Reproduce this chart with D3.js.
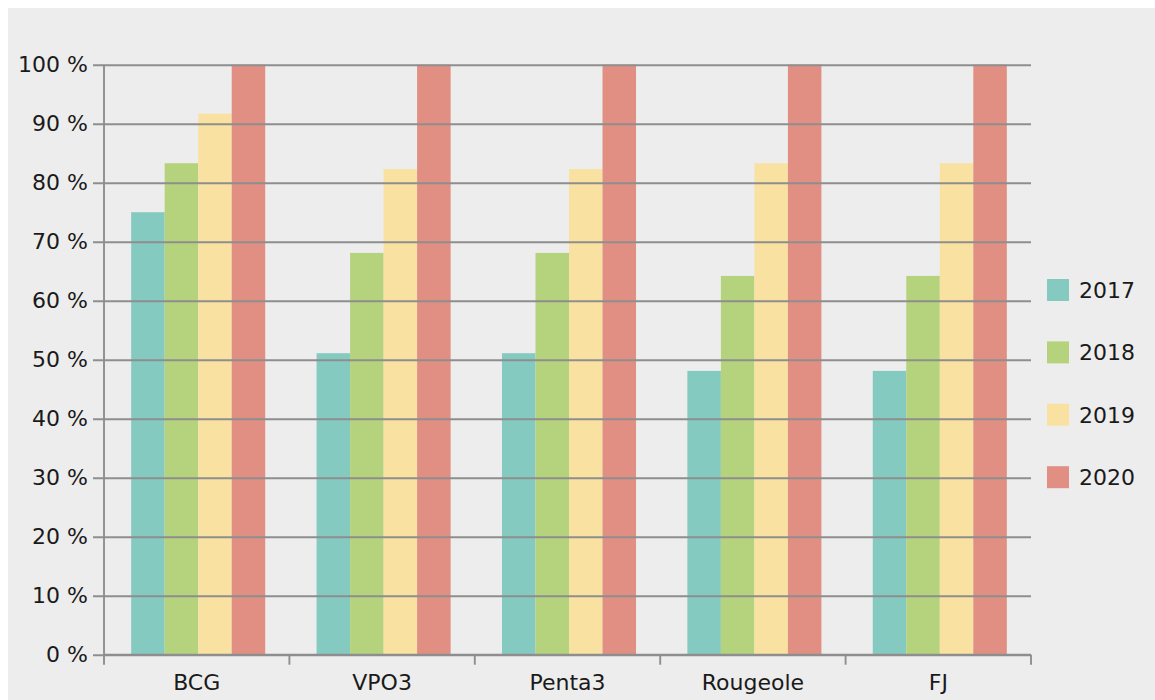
<!DOCTYPE html>
<html>
<head>
<meta charset="utf-8">
<script src="https://cdn.jsdelivr.net/npm/d3@7"></script>
<style>
  html, body { margin: 0; padding: 0; background: #ffffff; }
  svg { display: block; }
  text { font-family: "DejaVu Sans", sans-serif; fill: #1a1a1a; }
</style>
</head>
<body>
<svg id="chart" width="1155" height="700"></svg>
<script>
const categories = ["BCG", "VPO3", "Penta3", "Rougeole", "FJ"];
const years = ["2017", "2018", "2019", "2020"];
const values2017 = [75.0, 51.1, 51.1, 48.1, 48.1];
const values2018 = [83.3, 68.1, 68.1, 64.2, 64.2];
const values2019 = [91.7, 82.3, 82.3, 83.3, 83.3];
const values2020 = [100, 100, 100, 100, 100];
const yTicks = [0, 10, 20, 30, 40, 50, 60, 70, 80, 90, 100];
const colors = ["#85cac0", "#b5d37d", "#f9e1a1", "#e08f82"];

const series = [values2017, values2018, values2019, values2020];

const svg = d3.select("#chart");
svg.append("rect").attr("x", 8).attr("y", 8).attr("width", 1147).attr("height", 692).attr("fill", "#ededed");

const mLeft = 104, mRight = 1031, mTop = 64.7, mBottom = 654.7;
const gridColor = "#8e8e8e", gridWidth = 1.9;

const x = d3.scaleBand().domain(categories).range([mLeft, mRight]).paddingInner(0.277).paddingOuter(0.1385);
const x1 = d3.scaleBand().domain(years).range([0, x.bandwidth()]);
const y = d3.scaleLinear().domain([0, 100]).range([mBottom, mTop]);

// bars
const groups = svg.append("g").selectAll("g").data(categories).join("g")
  .attr("transform", d => `translate(${x(d) + 1.5},0)`);
groups.selectAll("rect")
  .data((c, i) => years.map((yr, j) => ({ yr, v: series[j][i], j })))
  .join("rect")
  .attr("x", d => x1(d.yr))
  .attr("width", x1.bandwidth())
  .attr("y", d => y(d.v))
  .attr("height", d => mBottom - y(d.v))
  .attr("fill", d => colors[d.j]);

// y axis with gridlines (drawn over bars)
const yAxis = d3.axisLeft(y).tickValues(yTicks).tickFormat(d => d + " %")
  .tickSize(-(mRight - mLeft)).tickPadding(16);
const gy = svg.append("g").attr("transform", `translate(${mLeft},0)`).call(yAxis);
gy.select(".domain").remove();
gy.selectAll(".tick line").attr("stroke", gridColor).attr("stroke-width", gridWidth).attr("x1", -11);
gy.selectAll(".tick text").style("font-size", "22px").style("font-family", "DejaVu Sans, sans-serif").attr("fill", "#1a1a1a");
svg.append("line").attr("x1", mLeft).attr("x2", mLeft).attr("y1", mTop).attr("y2", mBottom)
  .attr("stroke", gridColor).attr("stroke-width", gridWidth);

// x axis
const gx = svg.append("g").attr("transform", `translate(0,${mBottom})`).call(d3.axisBottom(x).tickSize(0).tickPadding(20));
gx.select(".domain").attr("stroke", gridColor).attr("stroke-width", gridWidth).attr("d", `M${mLeft},0H${mRight}`);
gx.selectAll(".tick text").style("font-size", "22px").style("font-family", "DejaVu Sans, sans-serif").attr("fill", "#1a1a1a");
const boundaries = categories.map(c => x(c) - x.step() * 0.277 / 2).concat([mRight]);
gx.selectAll("line.bound").data(boundaries).join("line").attr("class", "bound")
  .attr("x1", d => d).attr("x2", d => d).attr("y1", 0).attr("y2", 10)
  .attr("stroke", gridColor).attr("stroke-width", gridWidth);

// legend
const legend = svg.append("g").selectAll("g").data(years).join("g")
  .attr("transform", (d, i) => `translate(1047,${279 + i * 62.4})`);
legend.append("rect").attr("width", 22).attr("height", 22).attr("fill", (d, i) => colors[i]);
legend.append("text").attr("x", 32).attr("y", 19).style("font-size", "22px").text(d => d);
</script>
</body>
</html>
